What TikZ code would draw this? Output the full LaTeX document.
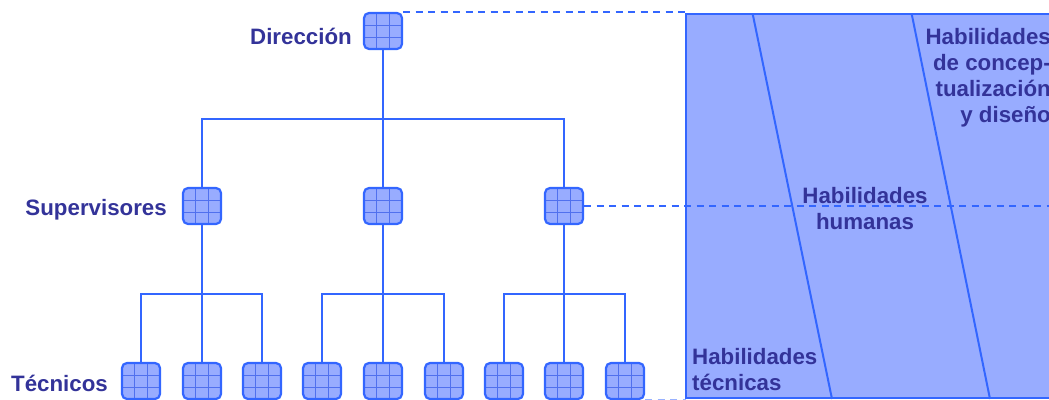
\documentclass[tikz,border=0pt]{standalone}
\usepackage{fontspec}
\setmainfont{Liberation Sans}
\usetikzlibrary{calc}
\definecolor{lineblue}{RGB}{51,102,255}
\definecolor{boxfill}{RGB}{152,172,255}
\definecolor{gridblue}{RGB}{80,112,238}
\definecolor{txtblue}{RGB}{51,51,153}
\tikzset{
  unit/.style={draw=lineblue, line width=2.2pt, fill=boxfill, rounded corners=5pt,
    minimum width=38pt, minimum height=36pt, inner sep=0pt,
    path picture={
      \foreach \f in {0.333,0.667}{
        \draw[gridblue, line width=0.7pt]
          ($(path picture bounding box.south west)!\f!(path picture bounding box.south east)$) --
          ($(path picture bounding box.north west)!\f!(path picture bounding box.north east)$);
        \draw[gridblue, line width=0.7pt]
          ($(path picture bounding box.south west)!\f!(path picture bounding box.north west)$) --
          ($(path picture bounding box.south east)!\f!(path picture bounding box.north east)$);
      }}},
  conn/.style={draw=lineblue, line width=2pt},
  dashline/.style={draw=lineblue, line width=2pt, dash pattern=on 7pt off 5.5pt},
  panelline/.style={draw=lineblue, line width=2pt},
  lbl/.style={text=txtblue, inner sep=0pt, font=\fontsize{22.3}{26}\selectfont\bfseries},
}
\begin{document}
\begin{tikzpicture}[x=1pt,y=-1pt]
\useasboundingbox (0,0) rectangle (1049,399);
\clip (0,0) rectangle (1049,399);

% right panel
\coordinate (pnw) at (686,14);
\coordinate (pse) at (1060,398);
\coordinate (pne) at (1060,14);
\coordinate (psw) at (686,398);
\fill[boxfill] (pnw) rectangle (pse);
\draw[panelline] (pne) -- (pnw) -- (psw) -- (pse);
\coordinate (a1) at (752.7,14);
\coordinate (a2) at (832,399);
\coordinate (b1) at (911.7,14);
\coordinate (b2) at (990,399);
\draw[panelline] (a1) -- (a2);
\draw[panelline] (b1) -- (b2);

% helper levels
\coordinate (h1) at (0,119);
\coordinate (h2) at (0,294);
\coordinate (rim) at (1049,0);

% boxes
\node[unit] (d) at (383,31) {};
\node[unit] (s1) at (202,206) {};
\node[unit] (s2) at (383,206) {};
\node[unit] (s3) at (564,206) {};
\foreach \i/\x in {1/141,2/202,3/262,4/322,5/383,6/444,7/504,8/564,9/625}
  \node[unit] (t\i) at (\x,381) {};

% connectors
\draw[conn] (d.south) -- (s2.north);
\draw[conn] (s1.north) -- (s1.north |- h1) -- (s3.north |- h1) -- (s3.north);
\draw[conn] (s1.south) -- (t2.north);
\draw[conn] (t1.north) -- (t1.north |- h2) -- (t3.north |- h2) -- (t3.north);
\draw[conn] (s2.south) -- (t5.north);
\draw[conn] (t4.north) -- (t4.north |- h2) -- (t6.north |- h2) -- (t6.north);
\draw[conn] (s3.south) -- (t8.north);
\draw[conn] (t7.north) -- (t7.north |- h2) -- (t9.north |- h2) -- (t9.north);

% dashed links
\draw[dashline] (d.north east) -- (d.north east -| pnw);
\draw[dashline] (s3.east) -- (s3.east -| rim);
\draw[dashline, draw opacity=0.5] (t9.south east) -- (t9.south east -| pnw);

% labels
\node[lbl, anchor=base east] (ldir) at (352,44.3) {Dirección};
\node[lbl, anchor=base east] (lsup) at (167,215) {Supervisores};
\node[lbl, anchor=base east] (ltec) at (108,391) {Técnicos};
\node[lbl, anchor=north, align=center] (hhum) at (865,187.5) {Habilidades\\humanas};
\node[lbl, anchor=north west, align=left] (htec) at (692,348.5) {Habilidades\\técnicas};
\node[lbl, anchor=north east, align=right] (hcon) at (1051,28.5) {Habilidades\\de concep-\\tualización\\y diseño};
\end{tikzpicture}
\end{document}
